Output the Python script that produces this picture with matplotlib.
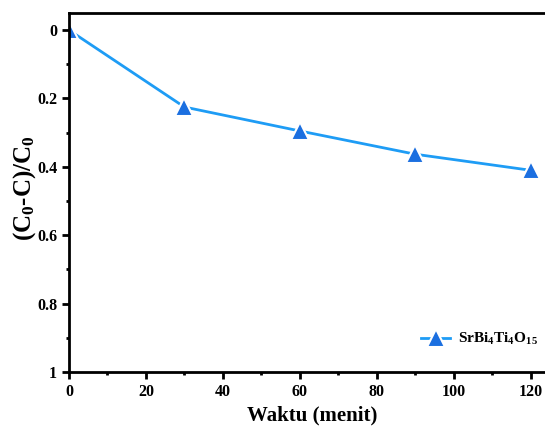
import matplotlib
matplotlib.use('Agg')
from matplotlib import pyplot as plt
from matplotlib.ticker import MultipleLocator

# data
waktu = [0, 30, 60, 90, 120]
degradasi = [0.0, 0.225, 0.295, 0.363, 0.41]
label_sampel = r'SrBi$_\mathbf{4}$Ti$_\mathbf{4}$O$_\mathbf{15}$'

plt.rcParams['font.family'] = ['Liberation Serif', 'DejaVu Serif']
plt.rcParams['font.weight'] = 'bold'
plt.rcParams['mathtext.fontset'] = 'custom'
plt.rcParams['mathtext.rm'] = 'Liberation Serif:bold'
plt.rcParams['mathtext.bf'] = 'Liberation Serif:bold'
plt.rcParams['mathtext.it'] = 'Liberation Serif:bold'
plt.rcParams['mathtext.default'] = 'bf'

fig = plt.figure(figsize=(5.45, 4.3), dpi=100)
ax = fig.add_axes([69 / 545, 58 / 430, 500 / 545, 359 / 430])

ax.plot(waktu, degradasi, color='#1E9CF5', lw=2, marker='^', ms=13,
        mfc='#1B6FE0', mec='white', mew=1.5, label=label_sampel)

ax.set_xlim(0, 130)
ax.set_ylim(1, -0.05)
ax.xaxis.set_major_locator(MultipleLocator(20))
ax.xaxis.set_minor_locator(MultipleLocator(10))
ax.set_yticks([0, 0.2, 0.4, 0.6, 0.8, 1])
ax.set_yticklabels(['0', '0.2', '0.4', '0.6', '0.8', '1'])
ax.yaxis.set_minor_locator(MultipleLocator(0.1))

ax.tick_params(which='major', direction='out', length=5, width=2, labelsize=11.5)
ax.tick_params(which='minor', direction='out', length=2.5, width=2)
for s in ax.spines.values():
    s.set_linewidth(2)
ax.spines['right'].set_visible(False)

ax.set_xlabel('Waktu (menit)', fontsize=15, fontweight='bold', va='center')
ax.xaxis.set_label_coords(0.486, -0.12)
ax.set_ylabel(r'(C$_\mathbf{0}$-C)/C$_\mathbf{0}$', fontsize=18, fontweight='bold', va='center')
ax.yaxis.set_label_coords(-0.088, 0.513)

ax.legend(loc='lower right', bbox_to_anchor=(0.965, 0.03), frameon=False,
          fontsize=11, handlelength=1.9, handletextpad=0.5)

fig.savefig('out.png', dpi=100)
